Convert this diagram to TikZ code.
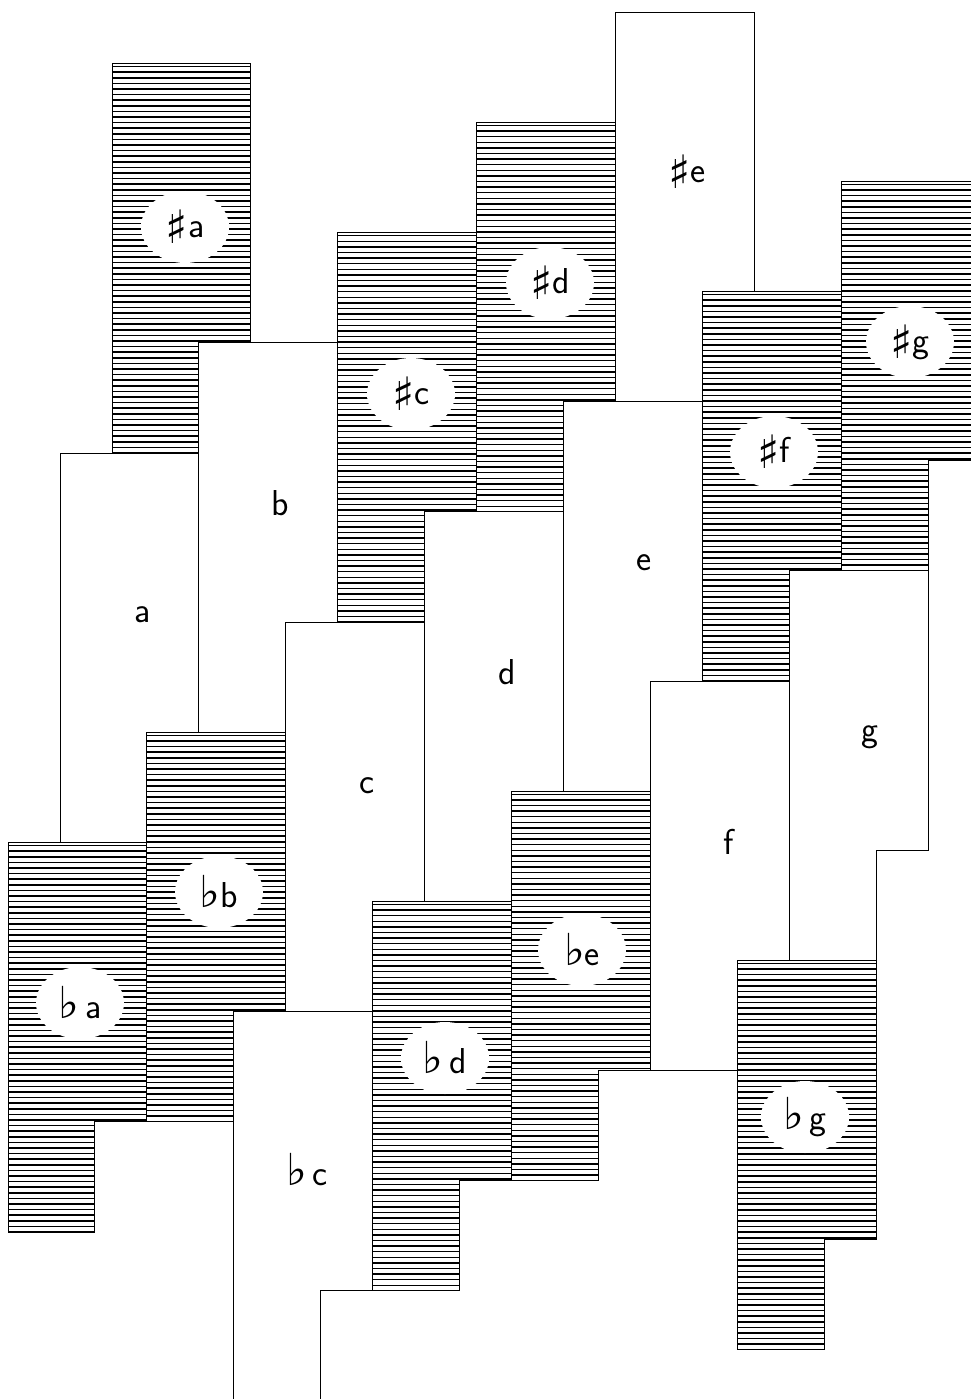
\documentclass[tikz,border=0pt]{standalone}
\usepackage{fontspec}
\newfontfamily\symfont{DejaVu Sans}
\usetikzlibrary{shapes.geometric}
\newcommand\shp{\raisebox{-6pt}{\symfont\fontsize{46}{46}\selectfont ♯}}
\newcommand\flt{{\symfont\fontsize{44}{44}\selectfont ♭}}
\newcommand\tileat[2]{\pgfmathsetmacro\tx{60+(#1)*138.9-(#2)*52}\pgfmathsetmacro\ty{453-(#1)*110.2+(#2)*389.5}}
\newcommand\hatchtile[2]{\tileat{#1}{#2}%
  \begin{scope}
    \clip (\tx,\ty) -- ++(138.9,0) -- ++(0,279.3) -- ++(-52,0) -- ++(0,110.2) -- ++(-86.9,0) -- cycle;
    \foreach \k in {1,...,70} \draw[hatchline] (\tx-2,\ty+\k*5.6-2.5) -- ++(145,0);
  \end{scope}%
  \draw[edge] (\tx,\ty) -- ++(138.9,0) -- ++(0,279.3) -- ++(-52,0) -- ++(0,110.2) -- ++(-86.9,0) -- cycle;}
\newcommand\whitetile[2]{\tileat{#1}{#2}%
  \draw[edge] (\tx,\ty) -- ++(138.9,0) -- ++(0,279.3) -- ++(-52,0) -- ++(0,110.2) -- ++(-86.9,0) -- cycle;}
\begin{document}
\begin{tikzpicture}[x=1pt,y=-1pt,
  edge/.style={draw=black,line width=1pt,line join=miter},
  hatchline/.style={draw=black,line width=1.5pt},
  lbl/.style={font=\sffamily\fontsize{36}{36}\selectfont,inner sep=0pt},
  halo/.style={lbl,ellipse,fill=white,minimum width=88pt,minimum height=72pt}]
\useasboundingbox (0,0) rectangle (971,1399);
\clip (0,0) rectangle (971,1399);
% hatched tiles (sharps and flats)
\hatchtile{0}{-1}
\hatchtile{2}{0}
\hatchtile{3}{0}
\hatchtile{5}{1}
\hatchtile{6}{1}
\hatchtile{0}{1}
\hatchtile{1}{1}
\hatchtile{3}{2}
\hatchtile{4}{2}
\hatchtile{6}{3}
% white tiles
\whitetile{0}{0}
\whitetile{1}{0}
\whitetile{2}{1}
\whitetile{3}{1}
\whitetile{4}{1}
\whitetile{5}{2}
\whitetile{6}{2}
\whitetile{4}{0}
\whitetile{2}{2}
% labels on hatched tiles
\node[halo] (sa) at (185,227) {\shp a};
\node[halo] (sc) at (411,394) {\shp c};
\node[halo] (sd) at (550,283) {\shp d};
\node[halo] (sf) at (774,452) {\shp f};
\node[halo] (sg) at (910,342) {\shp g};
\node[halo] (fa) at (80,1003) {\flt\,a};
\node[halo] (fb) at (219,892) {\flt b};
\node[halo] (fd) at (445,1058) {\flt\,d};
\node[halo] (fe) at (582,950) {\flt e};
\node[halo] (fg) at (805,1117) {\flt\,g};
% labels on white tiles
\node[lbl] (se) at (687,172) {\shp e};
\node[lbl] (na) at (143,615) {a};
\node[lbl] (nb) at (280,503) {b};
\node[lbl] (nc) at (367,786) {c};
\node[lbl] (nd) at (507,672) {d};
\node[lbl] (ne) at (644,563) {e};
\node[lbl] (nf) at (729,842) {f};
\node[lbl] (ng) at (870,737) {g};
\node[lbl] (fc) at (307,1170) {\flt\,c};
\end{tikzpicture}
\end{document}
